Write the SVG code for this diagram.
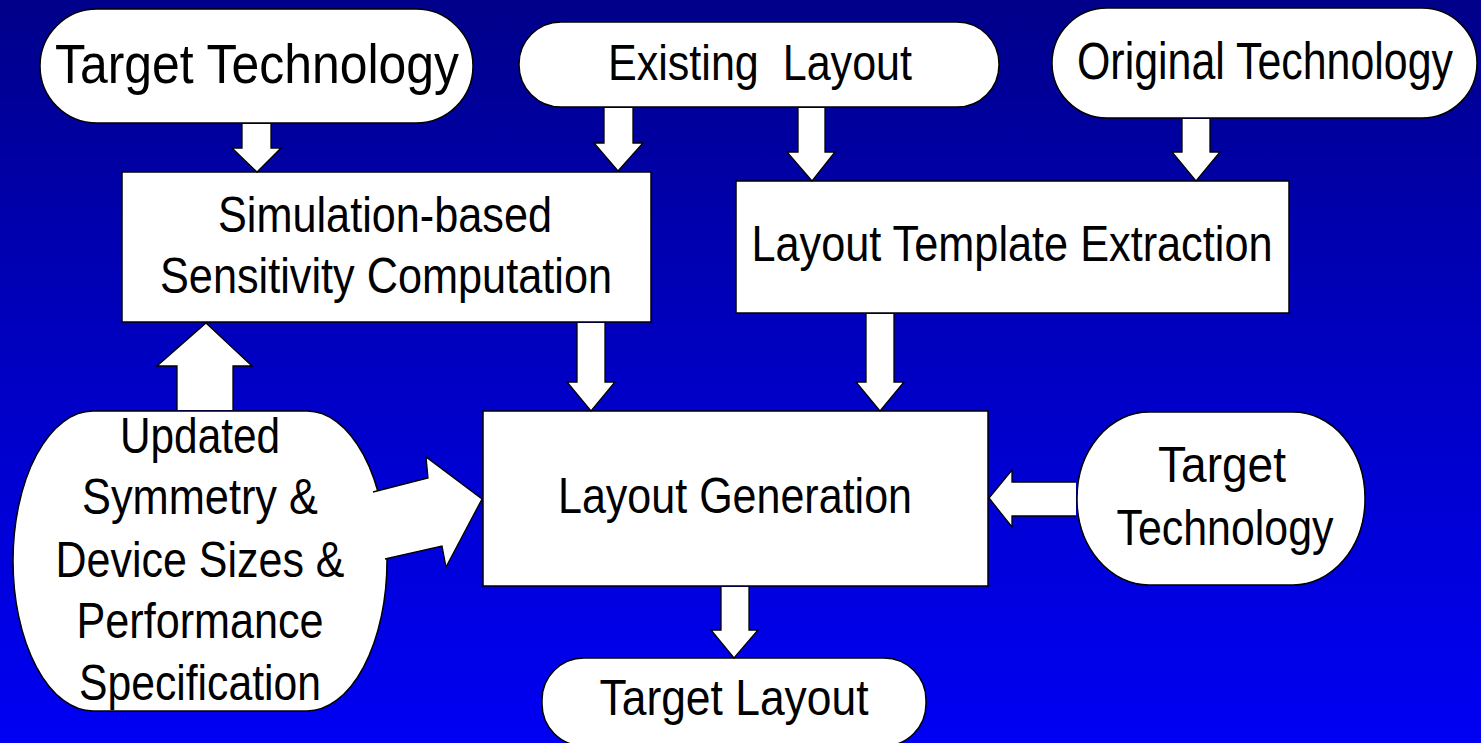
<svg xmlns="http://www.w3.org/2000/svg" width="1481" height="743" viewBox="0 0 1481 743">
<defs>
<linearGradient id="bg" x1="0" y1="0" x2="0" y2="1">
<stop offset="0" stop-color="#00008A"/>
<stop offset="0.5" stop-color="#0000C4"/>
<stop offset="1" stop-color="#0000F4"/>
</linearGradient>
</defs>
<style>
.shape{fill:#ffffff;stroke:#000000;stroke-width:1.5}
.arrow{fill:#ffffff;stroke:#000000;stroke-width:1.3;stroke-linejoin:miter}
.fillonly{fill:#ffffff;stroke:none}
.line{fill:none;stroke:#000000;stroke-width:1.3}
text{font-family:"Liberation Sans",Arial,sans-serif;fill:#000000;text-anchor:middle}
.t50{font-size:50px}
.t51{font-size:51px}
.t56{font-size:56px}
</style>
<rect x="0" y="0" width="1481" height="743" fill="url(#bg)"/>

<g id="node-target-technology-top">
<rect class="shape" x="40" y="9" width="433" height="114" rx="57" ry="57"/>
<text class="t56" x="257" y="83" textLength="404" lengthAdjust="spacingAndGlyphs">Target Technology</text>
</g>

<g id="node-existing-layout">
<rect class="shape" x="519" y="22" width="480" height="85" rx="42" ry="42"/>
<text class="t50" x="760" y="80" textLength="304" lengthAdjust="spacingAndGlyphs" xml:space="preserve">Existing  Layout</text>
</g>

<g id="node-original-technology">
<rect class="shape" x="1052" y="8" width="425" height="110" rx="55" ry="55"/>
<text class="t51" x="1265" y="79" textLength="376" lengthAdjust="spacingAndGlyphs">Original Technology</text>
</g>

<g id="node-simulation">
<rect class="shape" x="122" y="172" width="529" height="150"/>
<text class="t50" x="385" y="232" textLength="334" lengthAdjust="spacingAndGlyphs">Simulation-based</text>
<text class="t50" x="386" y="293" textLength="452" lengthAdjust="spacingAndGlyphs">Sensitivity Computation</text>
</g>

<g id="node-template-extraction">
<rect class="shape" x="736" y="181" width="553" height="132"/>
<text class="t50" x="1012" y="261" textLength="521" lengthAdjust="spacingAndGlyphs">Layout Template Extraction</text>
</g>

<g id="node-layout-generation">
<rect class="shape" x="483" y="411" width="505" height="175"/>
<text class="t50" x="735" y="513" textLength="354" lengthAdjust="spacingAndGlyphs">Layout Generation</text>
</g>

<g id="node-target-technology-right">
<rect class="shape" x="1077" y="412" width="288" height="173" rx="72" ry="86"/>
<text class="t50" x="1222" y="482" textLength="128" lengthAdjust="spacingAndGlyphs">Target</text>
<text class="t50" x="1225" y="545" textLength="217" lengthAdjust="spacingAndGlyphs">Technology</text>
</g>

<g id="node-target-layout">
<rect class="shape" x="542" y="658" width="384" height="88" rx="42" ry="42"/>
<text class="t50" x="734" y="715" textLength="269" lengthAdjust="spacingAndGlyphs">Target Layout</text>
</g>

<g id="node-updated-specs">
<rect class="shape" x="13" y="411" width="374" height="300" rx="80" ry="150"/>
<text class="t50" x="200" y="453" textLength="160" lengthAdjust="spacingAndGlyphs">Updated</text>
<text class="t50" x="200" y="514" textLength="236" lengthAdjust="spacingAndGlyphs">Symmetry &amp;</text>
<text class="t50" x="200" y="577" textLength="289" lengthAdjust="spacingAndGlyphs">Device Sizes &amp;</text>
<text class="t50" x="200" y="638" textLength="247" lengthAdjust="spacingAndGlyphs">Performance</text>
<text class="t50" x="200" y="700" textLength="242" lengthAdjust="spacingAndGlyphs">Specification</text>
</g>

<g id="connectors">
<path class="arrow" d="M242,124 L242,148 L232,148 L257,172 L281,148 L271,148 L271,124"/>
<path class="arrow" d="M604,108 L604,143 L594,143 L618,171 L643,143 L633,143 L633,108"/>
<path class="arrow" d="M798,108 L798,152 L787,152 L812,181 L835,152 L825,152 L825,108"/>
<path class="arrow" d="M1182,119 L1182,152 L1172,152 L1196,181 L1220,152 L1210,152 L1210,119"/>
<path class="arrow" d="M577,323 L577,382 L567,382 L591,411 L615,382 L605,382 L605,323"/>
<path class="arrow" d="M866,314 L866,382 L856,382 L880,411 L904,382 L894,382 L894,314"/>
<path class="arrow" d="M721,587 L721,630 L711,630 L734,658 L758,630 L749,630 L749,587"/>
<path class="arrow" d="M1076,482 L1012,482 L1012,470 L989,498 L1012,527 L1012,516 L1076,516"/>
<path class="arrow" d="M177,410 L177,366 L157,366 L206,323 L252,366 L233,366 L233,410"/>
<polygon class="fillonly" points="340,500 373,492 428,478 426,457 482,499 446,567 442,546 385,559 350,566"/>
<path class="line" d="M373,492 L428,478 L426,457 L482,499 L446,567 L442,546 L385,559"/>
</g>
</svg>
